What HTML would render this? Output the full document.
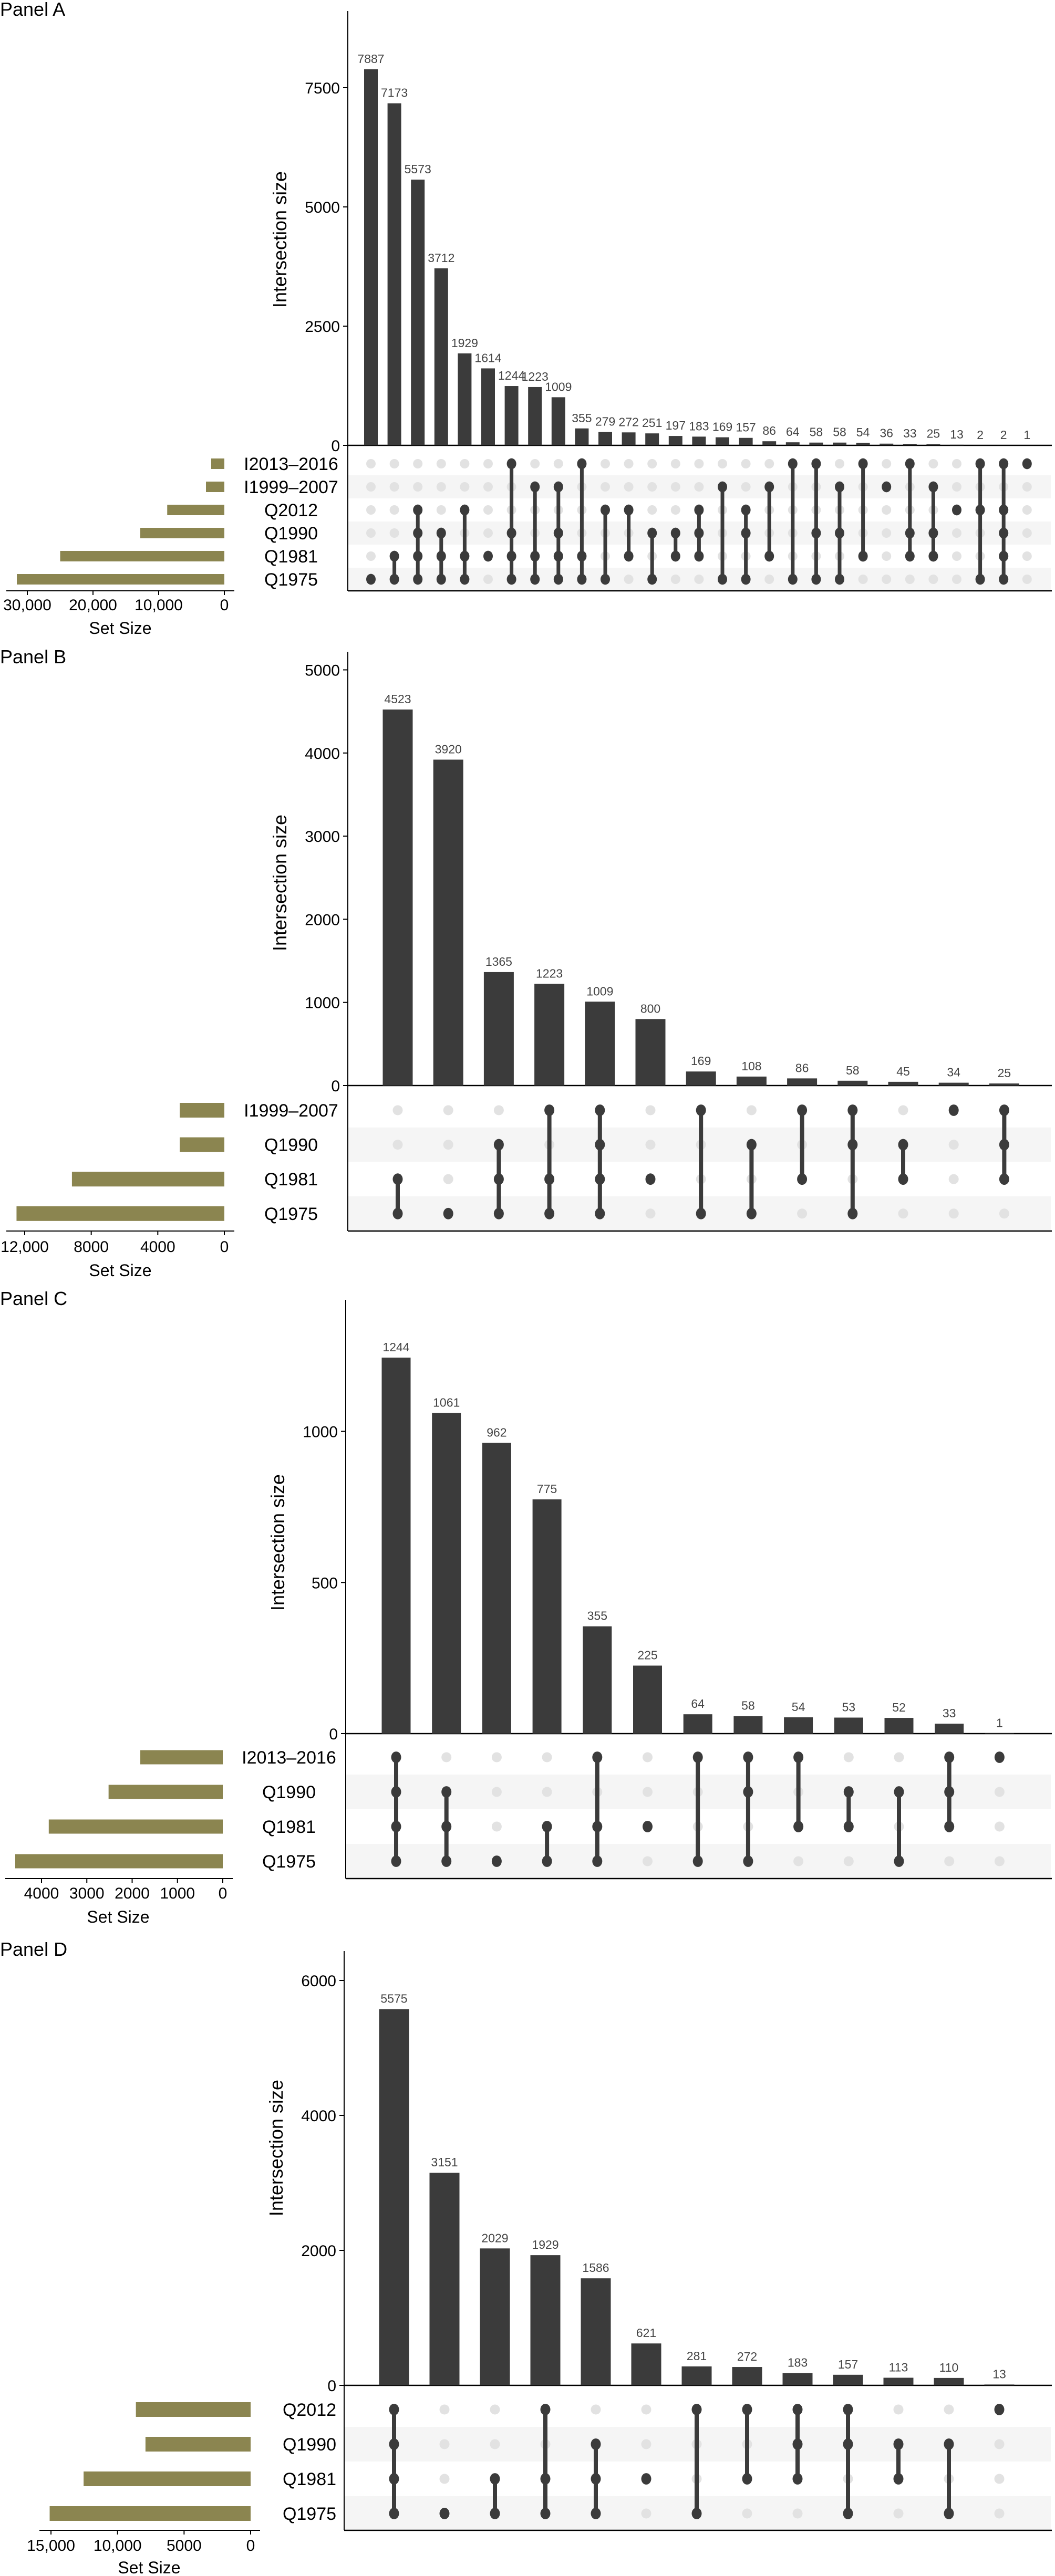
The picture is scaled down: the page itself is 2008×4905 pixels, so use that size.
<!DOCTYPE html>
<html><head><meta charset="utf-8">
<style>
html,body{margin:0;padding:0;background:#fff;}
svg{display:block;font-family:"Liberation Sans",Arial,sans-serif;}
</style></head>
<body>
<svg id="chart" width="2008" height="4905" viewBox="0 0 2008 4905" xmlns="http://www.w3.org/2000/svg"></svg>
<script>
// ---- Panel A data ----
const aSets = ["I2013–2016","I1999–2007","Q2012","Q1990","Q1981","Q1975"];
const aSetSizes = [2000,2800,8700,12800,25000,31600];
const aCounts = [7887,7173,5573,3712,1929,1614,1244,1223,1009,355,279,272,251,197,183,169,157,86,64,58,58,54,36,33,25,13,2,2,1];
const aMembers = [
 ["Q1975"],["Q1981","Q1975"],["Q2012","Q1990","Q1981","Q1975"],["Q1990","Q1981","Q1975"],
 ["Q2012","Q1981","Q1975"],["Q1981"],["I2013–2016","Q1990","Q1981","Q1975"],["I1999–2007","Q1981","Q1975"],
 ["I1999–2007","Q1990","Q1981","Q1975"],["I2013–2016","Q1981","Q1975"],["Q2012","Q1975"],["Q2012","Q1981"],
 ["Q1990","Q1975"],["Q1990","Q1981"],["Q2012","Q1990","Q1981"],["I1999–2007","Q1975"],
 ["Q2012","Q1990","Q1975"],["I1999–2007","Q1981"],["I2013–2016","Q1975"],["I2013–2016","Q1990","Q1975"],
 ["I1999–2007","Q1990","Q1975"],["I2013–2016","Q1981"],["I1999–2007"],["I2013–2016","Q1990","Q1981"],
 ["I1999–2007","Q1990","Q1981"],["Q2012"],["I2013–2016","Q2012","Q1975"],
 ["I2013–2016","Q2012","Q1990","Q1981","Q1975"],["I2013–2016"]];
const aYTicks = [0,2500,5000,7500];
const aSetTicks = [0,10000,20000,30000];
const aSetTickLabels = ["0","10,000","20,000","30,000"];

// ---- Panel B data ----
const bSets = ["I1999–2007","Q1990","Q1981","Q1975"];
const bSetSizes = [2680,2680,9160,12490];
const bCounts = [4523,3920,1365,1223,1009,800,169,108,86,58,45,34,25];
const bMembers = [
 ["Q1981","Q1975"],["Q1975"],["Q1990","Q1981","Q1975"],["I1999–2007","Q1981","Q1975"],
 ["I1999–2007","Q1990","Q1981","Q1975"],["Q1981"],["I1999–2007","Q1975"],["Q1990","Q1975"],
 ["I1999–2007","Q1981"],["I1999–2007","Q1990","Q1975"],["Q1990","Q1981"],["I1999–2007"],
 ["I1999–2007","Q1990","Q1981"]];
const bYTicks = [0,1000,2000,3000,4000,5000];
const bSetTicks = [0,4000,8000,12000];
const bSetTickLabels = ["0","4000","8000","12,000"];

// ---- Panel C data ----
const cSets = ["I2013–2016","Q1990","Q1981","Q1975"];
const cSetSizes = [1820,2520,3840,4580];
const cCounts = [1244,1061,962,775,355,225,64,58,54,53,52,33,1];
const cMembers = [
 ["I2013–2016","Q1990","Q1981","Q1975"],["Q1990","Q1981","Q1975"],["Q1975"],["Q1981","Q1975"],
 ["I2013–2016","Q1981","Q1975"],["Q1981"],["I2013–2016","Q1975"],["I2013–2016","Q1990","Q1975"],
 ["I2013–2016","Q1981"],["Q1990","Q1981"],["Q1990","Q1975"],["I2013–2016","Q1990","Q1981"],["I2013–2016"]];
const cYTicks = [0,500,1000];
const cSetTicks = [0,1000,2000,3000,4000];
const cSetTickLabels = ["0","1000","2000","3000","4000"];

// ---- Panel D data ----
const dSets = ["Q2012","Q1990","Q1981","Q1975"];
const dSetSizes = [8620,7900,12550,15100];
const dCounts = [5575,3151,2029,1929,1586,621,281,272,183,157,113,110,13];
const dMembers = [
 ["Q2012","Q1990","Q1981","Q1975"],["Q1975"],["Q1981","Q1975"],["Q2012","Q1981","Q1975"],
 ["Q1990","Q1981","Q1975"],["Q1981"],["Q2012","Q1975"],["Q2012","Q1981"],
 ["Q2012","Q1990","Q1981"],["Q2012","Q1990","Q1975"],["Q1990","Q1981"],["Q1990","Q1975"],["Q2012"]];
const dYTicks = [0,2000,4000,6000];
const dSetTicks = [0,5000,10000,15000];
const dSetTickLabels = ["0","5000","10,000","15,000"];

const NS = "http://www.w3.org/2000/svg";
const svg = document.getElementById("chart");
function mk(tag, attrs, parent) {
  const e = document.createElementNS(NS, tag);
  for (const k in attrs) e.setAttribute(k, attrs[k]);
  (parent || svg).appendChild(e);
  return e;
}

function drawPanel(name, title, sets, setSizes, counts, members, yTicks, setTicks, setTickLabels, L) {
  const g = mk("g", {});
  
  
  const yScale = v => L.base - v * L.yPx;
  const xCol = i => L.col0 + i * L.colStep;
  const yRow = j => L.row0 + j * L.rowStep;
  const xSet = v => L.setZero - v * L.setPx;

  const t = mk("text", {x: 0, y: L.titleY + 13, "font-size": 36, fill: "#000"}, g);
  t.textContent = title;
  
  

  // stripes
  for (let j = 0; j < sets.length; j++) {
    if (j % 2 === 1) {
      const s = mk("rect", {x: L.axisX, y: yRow(j) - L.rowStep / 2, width: 2000 - L.axisX, height: L.rowStep, fill: "#f5f5f5"}, g);
      
      
    }
  }

  // y axis
  const ax = mk("line", {x1: L.axisX, y1: L.top, x2: L.axisX, y2: L.matBottom, stroke: "#000", "stroke-width": 2}, g);
  
  
  const bl = mk("line", {x1: L.axisX, y1: L.base, x2: 2002, y2: L.base, stroke: "#000", "stroke-width": 2.5}, g);
  
  
  const mb = mk("line", {x1: L.axisX, y1: L.matBottom, x2: 2002, y2: L.matBottom, stroke: "#000", "stroke-width": 2.5}, g);
  
  
  yTicks.forEach(v => {
    const tk = mk("line", {x1: L.axisX - 9, y1: yScale(v), x2: L.axisX, y2: yScale(v), stroke: "#000", "stroke-width": 2}, g);
    
    
    const tl = mk("text", {x: L.axisX - 15, y: yScale(v) + 11, "font-size": 30, "text-anchor": "end", fill: "#000"}, g);
    tl.textContent = v;
    
    
  });
  const yt = mk("text", {x: 0, y: 0, "font-size": 36, "text-anchor": "middle", fill: "#000",
    transform: "translate(" + (L.axisX - 117) + "," + L.yTitleY + ") rotate(-90)"}, g);
  yt.textContent = "Intersection size";
  
  

  // bars
  counts.forEach((c, i) => {
    const b = mk("rect", {x: xCol(i) - L.barW / 2, y: yScale(c), width: L.barW, height: L.base - yScale(c), fill: "#3b3b3b"}, g);
    
    
    const lb = mk("text", {x: xCol(i), y: yScale(c) - 12, "font-size": L.valFont, "text-anchor": "middle", fill: "#444"}, g);
    lb.textContent = c;
    
    
  });

  // matrix
  members.forEach((m, i) => {
    const idx = m.map(s => sets.indexOf(s));
    for (let j = 0; j < sets.length; j++) {
      if (idx.indexOf(j) < 0) {
        const d = mk("circle", {cx: xCol(i), cy: yRow(j), r: L.dotR, fill: "#e2e2e2"}, g);
        
        
      }
    }
    const mn = Math.min.apply(null, idx), mxx = Math.max.apply(null, idx);
    if (mxx > mn) {
      const ln = mk("line", {x1: xCol(i), y1: yRow(mn), x2: xCol(i), y2: yRow(mxx), stroke: "#3b3b3b", "stroke-width": L.lineW}, g);
      
      
    }
    idx.forEach(j => {
      const d = mk("ellipse", {cx: xCol(i), cy: yRow(j), rx: L.dotR, ry: L.dotR * 1.15, fill: "#3b3b3b"}, g);
      
      
    });
  });

  // set labels & set size bars
  sets.forEach((s, j) => {
    const tl = mk("text", {x: L.setLabelX, y: yRow(j) + 12, "font-size": 34, "text-anchor": "middle", fill: "#000"}, g);
    tl.textContent = s;
    
    
    const sb = mk("rect", {x: xSet(setSizes[j]), y: yRow(j) - L.setBarH / 2, width: L.setZero - xSet(setSizes[j]), height: L.setBarH, fill: "#8b8550"}, g);
    
    
  });
  const sa = mk("line", {x1: L.setAxisX0, y1: L.matBottom, x2: L.setAxisX1, y2: L.matBottom, stroke: "#000", "stroke-width": 2}, g);
  
  
  setTicks.forEach((v, k) => {
    const tk = mk("line", {x1: xSet(v), y1: L.matBottom, x2: xSet(v), y2: L.matBottom + 8, stroke: "#000", "stroke-width": 2}, g);
    
    
    const tl = mk("text", {x: xSet(v), y: L.setTickY + 11, "font-size": 30, "text-anchor": "middle", fill: "#000"}, g);
    tl.textContent = setTickLabels[k];
    
    
  });
  const st = mk("text", {x: L.setTitleX, y: L.setTitleY + 12, "font-size": 32, "text-anchor": "middle", fill: "#000"}, g);
  st.textContent = "Set Size";
  
  
}

drawPanel("a", "Panel A", aSets, aSetSizes, aCounts, aMembers, aYTicks, aSetTicks, aSetTickLabels,
  {titleY: 17, axisX: 662, top: 21, base: 848, yPx: 0.0908, yTitleY: 456,
   col0: 706, colStep: 44.6, barW: 26, valFont: 23,
   row0: 883, rowStep: 44, matBottom: 1125, dotR: 9, lineW: 7,
   setZero: 427, setPx: 0.0125, setBarH: 20, setLabelX: 554,
   setAxisX0: 12, setAxisX1: 446, setTickY: 1151, setTitleX: 229, setTitleY: 1195});
drawPanel("b", "Panel B", bSets, bSetSizes, bCounts, bMembers, bYTicks, bSetTicks, bSetTickLabels,
  {titleY: 1250, axisX: 662, top: 1241, base: 2067, yPx: 0.1583, yTitleY: 1681,
   col0: 757, colStep: 96.2, barW: 57, valFont: 23,
   row0: 2114, rowStep: 65.6, matBottom: 2344, dotR: 9.5, lineW: 8,
   setZero: 427, setPx: 0.03167, setBarH: 28, setLabelX: 554,
   setAxisX0: 12, setAxisX1: 446, setTickY: 2373, setTitleX: 229, setTitleY: 2418});
drawPanel("c", "Panel C", cSets, cSetSizes, cCounts, cMembers, cYTicks, cSetTicks, cSetTickLabels,
  {titleY: 2472, axisX: 658, top: 2475, base: 3301, yPx: 0.5755, yTitleY: 2937,
   col0: 754, colStep: 95.7, barW: 55, valFont: 23,
   row0: 3346, rowStep: 66, matBottom: 3577, dotR: 9.5, lineW: 8,
   setZero: 424, setPx: 0.08625, setBarH: 27, setLabelX: 550,
   setAxisX0: 10, setAxisX1: 443, setTickY: 3604, setTitleX: 225, setTitleY: 3649});
drawPanel("d", "Panel D", dSets, dSetSizes, dCounts, dMembers, dYTicks, dSetTicks, dSetTickLabels,
  {titleY: 3711, axisX: 655, top: 3715, base: 4542, yPx: 0.1285, yTitleY: 4090,
   col0: 750, colStep: 96, barW: 57, valFont: 23,
   row0: 4588, rowStep: 66, matBottom: 4818, dotR: 9.5, lineW: 8,
   setZero: 477, setPx: 0.02533, setBarH: 28, setLabelX: 589,
   setAxisX0: 75, setAxisX1: 495, setTickY: 4846, setTitleX: 284, setTitleY: 4888});
</script>
</body></html>
